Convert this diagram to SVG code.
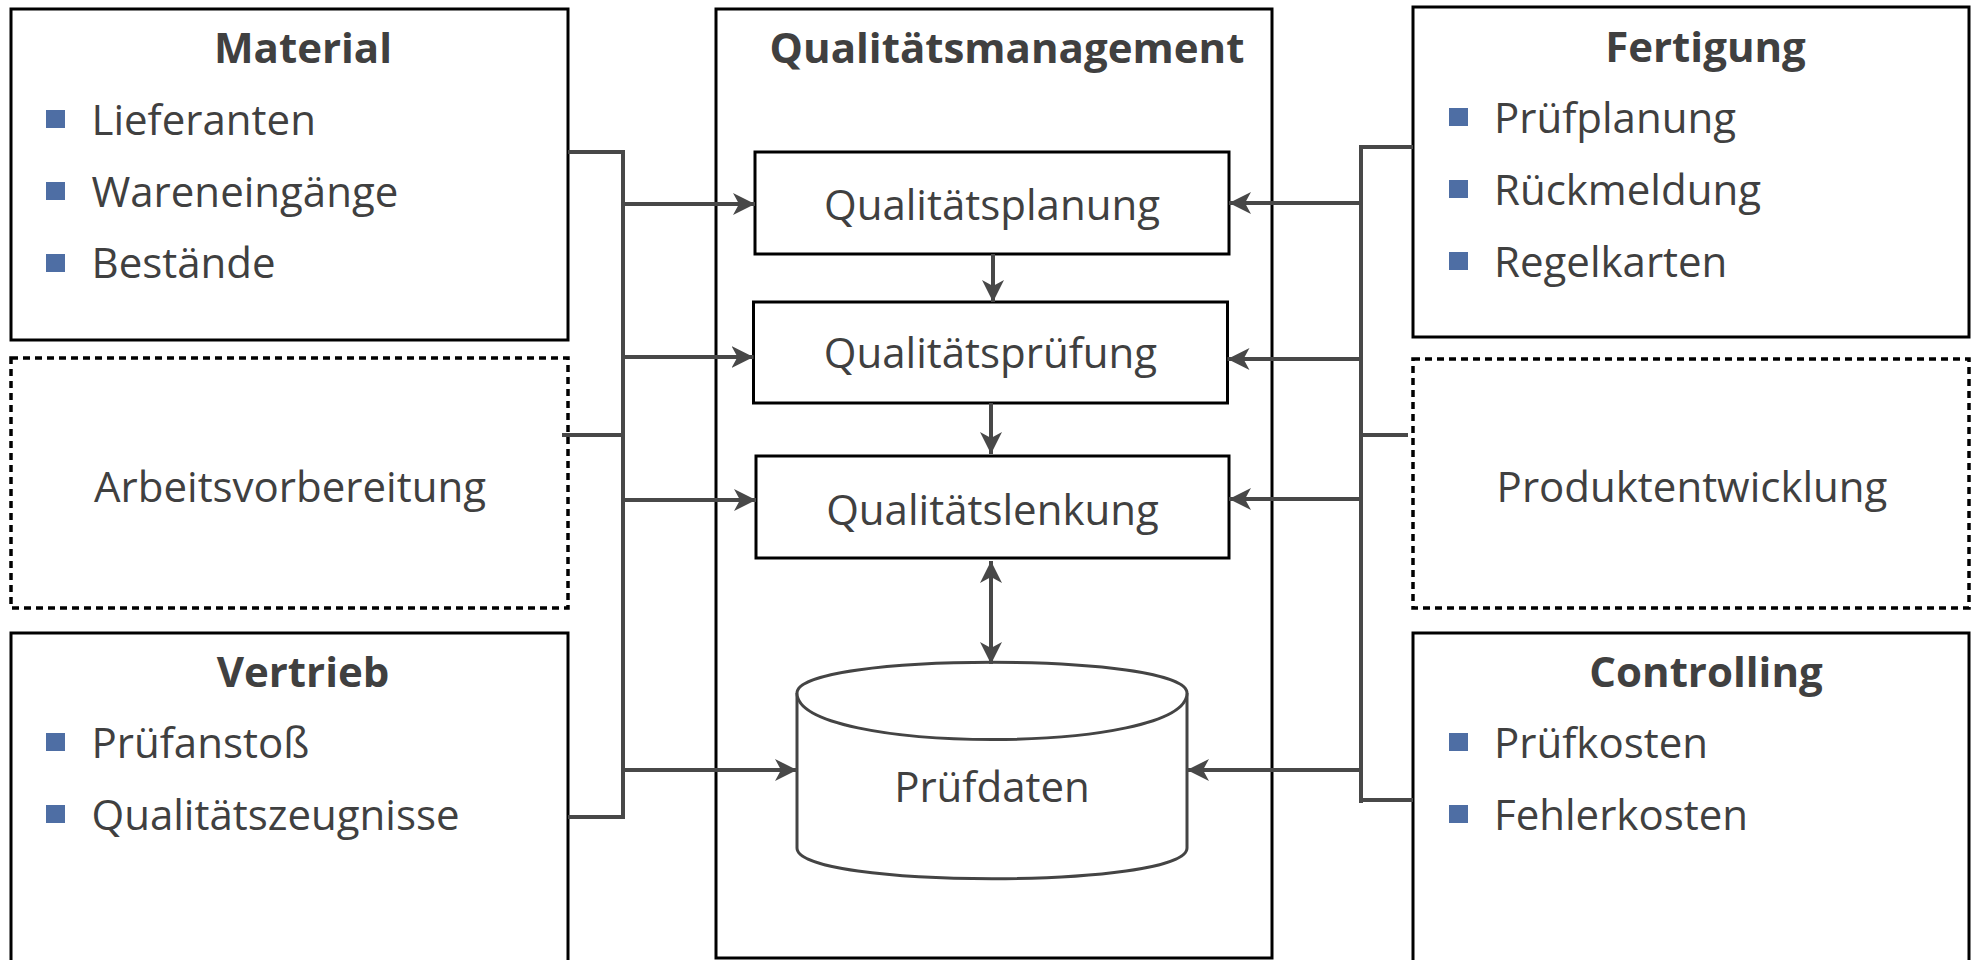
<svg xmlns="http://www.w3.org/2000/svg" width="1977" height="960" viewBox="0 0 1977 960">
  <style>
    .box { fill: #ffffff; stroke: #000000; stroke-width: 3; }
    .dash { fill: #ffffff; stroke: #000000; stroke-width: 3.5; stroke-dasharray: 7 5; }
    .inner { fill: #ffffff; stroke: #000000; stroke-width: 3; }
    .db { fill: #ffffff; stroke: #444444; stroke-width: 3; }
    .title { font-family: "Open Sans", "Noto Sans", sans-serif; font-size: 42px; font-weight: bold; fill: #404040; text-anchor: middle; }
    .label { font-family: "Open Sans", "Noto Sans", sans-serif; font-size: 42px; fill: #404040; text-anchor: middle; }
    .item { font-family: "Open Sans", "Noto Sans", sans-serif; font-size: 42px; fill: #404040; }
    .bullet { fill: #4e6ea4; }
    .wire { fill: none; stroke: #484848; stroke-width: 4; }
    .arrow { fill: none; stroke: #484848; stroke-width: 4; marker-end: url(#head); }
  </style>
  <defs>
    <marker id="head" markerUnits="userSpaceOnUse" markerWidth="24" markerHeight="24" refX="22" refY="11" orient="auto-start-reverse" viewBox="0 0 24 22">
      <path d="M0,0 L22,11 L0,22 L6,11 Z" fill="#484848"/>
    </marker>
  </defs>
  <rect width="1977" height="960" fill="#ffffff"/>

  <!-- Left column -->
  <g id="material">
    <rect class="box" x="11" y="9" width="557" height="331"/>
    <text class="title" x="303" y="63">Material</text>
    <rect class="bullet" x="46" y="110" width="19" height="18"/>
    <text class="item" x="91.5" y="135">Lieferanten</text>
    <rect class="bullet" x="46" y="182" width="19" height="18"/>
    <text class="item" x="91.5" y="207">Wareneingänge</text>
    <rect class="bullet" x="46" y="254" width="19" height="18"/>
    <text class="item" x="91.5" y="278">Bestände</text>
  </g>
  <g id="arbeitsvorbereitung">
    <rect class="dash" x="11" y="358" width="557" height="250"/>
    <text class="label" x="290" y="502">Arbeitsvorbereitung</text>
  </g>
  <g id="vertrieb">
    <rect class="box" x="11" y="633" width="557" height="400"/>
    <text class="title" x="303" y="687">Vertrieb</text>
    <rect class="bullet" x="46" y="733" width="19" height="18"/>
    <text class="item" x="91.5" y="758">Prüfanstoß</text>
    <rect class="bullet" x="46" y="805" width="19" height="18"/>
    <text class="item" x="91.5" y="830">Qualitätszeugnisse</text>
  </g>

  <!-- Centre column -->
  <g id="qualitaetsmanagement">
    <rect class="box" x="716" y="9" width="556" height="949"/>
    <text class="title" x="1007" y="63">Qualitätsmanagement</text>
  </g>
  <g id="qualitaetsplanung">
    <rect class="inner" x="755" y="152" width="474" height="102"/>
    <text class="label" x="992" y="220">Qualitätsplanung</text>
  </g>
  <g id="qualitaetspruefung">
    <rect class="inner" x="753.5" y="302" width="474" height="101"/>
    <text class="label" x="990.5" y="368">Qualitätsprüfung</text>
  </g>
  <g id="qualitaetslenkung">
    <rect class="inner" x="756" y="456" width="473" height="102"/>
    <text class="label" x="992.5" y="525">Qualitätslenkung</text>
  </g>
  <g id="pruefdaten">
    <path class="db" d="M797,693 C797,652 1187,652 1187,693 L1187,848 C1187,889 797,889 797,848 Z"/>
    <path class="db" fill="none" d="M797,693 C797,755 1187,755 1187,693"/>
    <text class="label" x="992" y="802">Prüfdaten</text>
  </g>

  <!-- Right column -->
  <g id="fertigung">
    <rect class="box" x="1413" y="7" width="556" height="330"/>
    <text class="title" x="1705.5" y="62">Fertigung</text>
    <rect class="bullet" x="1449" y="108" width="19" height="18"/>
    <text class="item" x="1494" y="133">Prüfplanung</text>
    <rect class="bullet" x="1449" y="180" width="19" height="18"/>
    <text class="item" x="1494" y="205">Rückmeldung</text>
    <rect class="bullet" x="1449" y="252" width="19" height="18"/>
    <text class="item" x="1494" y="277">Regelkarten</text>
  </g>
  <g id="produktentwicklung">
    <rect class="dash" x="1413" y="359" width="556" height="249"/>
    <text class="label" x="1692" y="502">Produktentwicklung</text>
  </g>
  <g id="controlling">
    <rect class="box" x="1413" y="633" width="556" height="400"/>
    <text class="title" x="1706" y="687">Controlling</text>
    <rect class="bullet" x="1449" y="733" width="19" height="18"/>
    <text class="item" x="1494" y="758">Prüfkosten</text>
    <rect class="bullet" x="1449" y="805" width="19" height="18"/>
    <text class="item" x="1494" y="830">Fehlerkosten</text>
  </g>

  <!-- Connectors -->
  <g id="connectors">
    <!-- left bus -->
    <path class="wire" d="M568,152 L623,152 M623,150 L623,819 M562,435 L623,435 M568,817 L623,817"/>
    <path class="arrow" d="M623,204 L755,204"/>
    <path class="arrow" d="M623,357 L753.5,357"/>
    <path class="arrow" d="M623,500 L756,500"/>
    <path class="arrow" d="M623,770 L797,770"/>
    <!-- right bus -->
    <path class="wire" d="M1413,147 L1361,147 M1361,145 L1361,803 M1408,435 L1361,435 M1413,800 L1361,800"/>
    <path class="arrow" d="M1361,203 L1229,203"/>
    <path class="arrow" d="M1361,359 L1227.5,359"/>
    <path class="arrow" d="M1361,499 L1229,499"/>
    <path class="arrow" d="M1361,770 L1187,770"/>
    <!-- internal flow -->
    <path class="arrow" d="M993,254 L993,302"/>
    <path class="arrow" d="M991,403 L991,454"/>
    <path class="arrow" style="marker-start: url(#head)" d="M991,561 L991,664"/>
  </g>
</svg>
